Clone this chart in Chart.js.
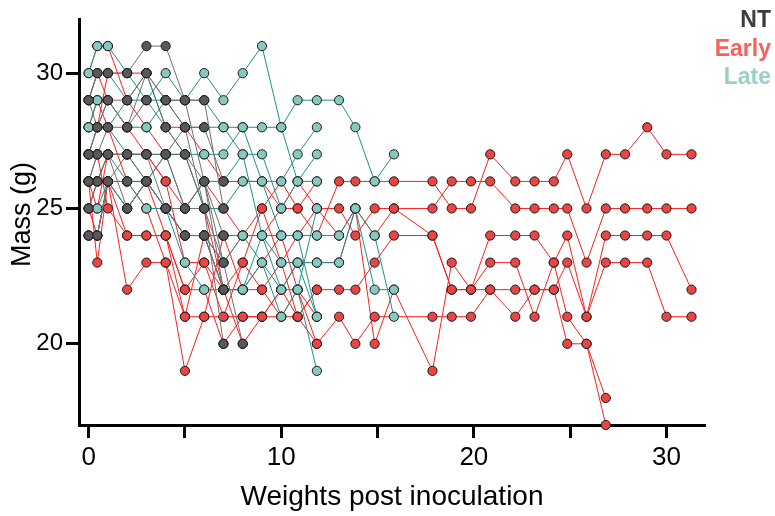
<!DOCTYPE html>
<html>
<head>
<meta charset="utf-8">
<script src="https://cdn.jsdelivr.net/npm/chart.js@4.4.1/dist/chart.umd.min.js"></script>
<style>
  body { margin: 0; background: #fff; }
  #wrap { position: relative; width: 775px; height: 516px; }
  #legend { position: absolute; right: 4px; top: 5px; text-align: right;
    font-family: 'Liberation Sans', Arial, sans-serif; font-weight: bold; font-size: 23px; line-height: 28.5px; }
</style>
</head>
<body>
<div id="wrap">
  <canvas id="myChart" width="775" height="516"></canvas>
  <div id="legend">
    <div style="color:#3d3d3d">NT</div>
    <div style="color:#f8625a">Early</div>
    <div style="color:#9acfc7">Late</div>
  </div>
</div>
<script>
const ctx = document.getElementById('myChart')

// days on which mice were weighed
let days = [0, 0.45, 1, 2, 3, 4, 5, 6, 7, 8, 9, 10, 10.85, 11.85, 13, 13.85, 14.85, 15.85,
  17.85, 18.85, 19.85, 20.85, 22.15, 23.15, 24.15, 24.85, 25.85, 26.85, 27.85, 29, 30, 31.3]

let xTicks = [0, 5, 10, 15, 20, 25, 30]
let yTicks = [20, 25, 30]

// NT mice, mass (g) per day (null = not weighed)
let nt1 = [29, 30, 30, 30, 31, 31, 29, 29, 25]
let nt2 = [27, 28, 29, 29, 30, 29, 28, 28, 26]
let nt3 = [26, 27, 28, 28, 29, 28, 27, 26, 24]
let nt4 = [25, 26, 27, 27, 27, 27, 25, 25, 23]
let nt5 = [24, 24, 26, 26, 26, 25, 24, 24, 22]
let nt6 = [27, 27, 27, 25, 26, 27, 28, 25, 20]
let nt7 = [29, 28, 29, 28, 30, 29, 29, 26, 22]
let nt8 = [26, 26, 26, 27, 27, 25, 25, 26, null, 20]

// Late mice
let late1 = [30, 31, 31, 30, 29, 30, 29, 30, 29, 30, 31, 28, 26, 26]
let late2 = [28, 29, 29, 28, 28, 29, 28, 28, 28, 28, 28, 28, 29, 29, 29, 28, 26, 27]
let late3 = [27, 28, 28, 29, 30, 28, 27, 27, 27, 28, 26, 26, 27, 28]
let late4 = [29, 30, 30, 29, 29, 29, 29, 29, 28, 27, 27, 25, 26, 27]
let late5 = [26, 27, 27, 27, 27, 27, 25, 26, 26, 27, 24, 24, 24, 21]
let late6 = [27, 28, 28, 27, 26, 27, 27, 25, 25, 26, 26, 24, 24, 24, 24, 25, 22, 22]
let late7 = [25, 25, 26, 26, 25, 25, 24, 24, 24, 24, 24, 23, 23, 23, 23, 25, 24, 21]
let late8 = [24, 24, 26, 25, 26, 25, 24, 24, 23, 24, 23, 21, 22, 19]
let late9 = [26, 26, 27, 26, 26, 25, 23, 22, 22, 22, 23, 22, 22, 25]
let late10 = [24, 24, 26, 25, 26, 25, 24, 24, 22, 22, 24, 22, 23, 21]

// Early mice
let early1 = [29, 30, 29, 28, 27, 26, 25, 26, 25, 24, 25, 26, 25, 24, 26, 26, 26, 26,
  26, 25, 25, 27, 26, 26, 26, 27, 25, 27, 27, 28, 27, 27]
let early2 = [27, 27, 25, 24, 24, 24, 22, 23, 22, 23, 22, 23, 24, 25, 25, 24, 25, 25,
  25, 26, 26, 26, 25, 25, 25, 25, 23, 25, 25, 25, 25, 25]
let early3 = [26, 23, 26, 22, 23, 23, 21, 21, 21, 21, 21, 22, 21, 22, 22, 22, 23, 24,
  24, 22, 22, 24, 24, 24, 23, 24, 21, 24, 24, 24, 24, 22]
let early4 = [28, 29, 28, 26, 25, 23, 19, 21, 24, 22, 22, 21, 22, 20, 21, 20, 21, null,
  21, 21, 21, 22, 22, 22, 22, 23, 21, 23, 23, 23, 21, 21]
let early5 = [25, 26, 27, 27, 26, 25, 24, 24, 23, 24, 24, 25, 26, 25, 24, 25, 20, 22,
  19, 23, 22, 23, 23, 21, 23, 21, 20, 18]
let early6 = [24, 24, 26, 25, 26, 24, 22, 22, 20, 21, 21, 22, 23, 23, 23, 25, 24, 25,
  24, 22, 22, 22, 21, 22, 22, 20, 20, 17]
let early7 = [30, 31, 31, 29, 28, 27, 27, 25, 22, 22, 23, 24, 22, 21]
let early8 = [28, 28, 30, 30, 30, 28, 28, 27, 26, 26, 26, 25, 25, 26]
let early9 = [26, 25, 27, 27, 27, 26, 23, 23, 21, 23, 25, 23, 21, 22]
let early10 = [25, 24, 26, 24, 24, 24, 21, 24, 22, 20, 21, 21, 21, 20]

let ntMice = [nt1, nt2, nt3, nt4, nt5, nt6, nt7, nt8]
let lateMice = [late1, late2, late3, late4, late5, late6, late7, late8, late9, late10]
let earlyMice = [early1, early2, early3, early4, early5, early6, early7, early8, early9, early10]

const font = "'Liberation Sans', Arial, sans-serif"

function toPoints(masses) {
    let pts = []
    masses.forEach((m, i) => {
        if (m !== null) pts.push({ x: days[i], y: m })
    })
    return pts
}

function makeSet(masses, line, fill) {
    return {
        data: toPoints(masses),
        showLine: true,
        borderColor: line,
        borderWidth: 1,
        pointRadius: 4.6,
        pointBorderWidth: 1,
        pointBackgroundColor: fill,
        pointBorderColor: '#1a1a1a',
        clip: false
    }
}

// first dataset is painted on top, so NT first and Early last
let datasets = []
ntMice.forEach(m => datasets.push(makeSet(m, '#6f6f6f', '#585858')))
lateMice.forEach(m => datasets.push(makeSet(m, '#1f8f8f', '#88c9bf')))
earlyMice.forEach(m => datasets.push(makeSet(m, '#ff1e1e', '#ea4545')))

const axisGrid = {
    drawOnChartArea: false,
    drawTicks: true,
    tickLength: 13,
    tickWidth: 3,
    tickColor: '#000'
}

const myChart = new Chart(ctx, {
    type: 'scatter',
    data: { datasets: datasets },
    options: {
        responsive: false,
        animation: false,
        layout: { padding: { top: 19, right: 70, left: 0, bottom: 0 } },
        plugins: { legend: { display: false }, tooltip: { enabled: false } },
        scales: {
            x: {
                type: 'linear',
                min: -0.5,
                max: 32,
                border: { display: true, color: '#000', width: 3 },
                grid: axisGrid,
                afterBuildTicks: s => { s.ticks = xTicks.map(v => ({ value: v })) },
                afterFit: s => { s.height = 91 },
                ticks: {
                    autoSkip: false,
                    maxRotation: 0,
                    padding: 4,
                    color: '#000',
                    font: { family: font, size: 26 },
                    callback: v => (v % 10 === 0 ? v : '')
                },
                title: {
                    display: true,
                    text: 'Weights post inoculation',
                    color: '#000',
                    font: { family: font, size: 28 },
                    padding: { top: 0, bottom: 2 }
                }
            },
            y: {
                min: 17,
                max: 32,
                border: { display: true, color: '#000', width: 3 },
                grid: axisGrid,
                afterBuildTicks: s => { s.ticks = yTicks.map(v => ({ value: v })) },
                afterFit: s => { s.width = 79 },
                ticks: {
                    padding: 3,
                    color: '#000',
                    font: { family: font, size: 24 }
                },
                title: {
                    display: true,
                    // two leading spaces nudge the label up a little, as in the original
                    text: '  Mass (g)',
                    color: '#000',
                    font: { family: font, size: 27 },
                    padding: { top: 6, bottom: 0 }
                }
            }
        }
    }
})
</script>
</body>
</html>
